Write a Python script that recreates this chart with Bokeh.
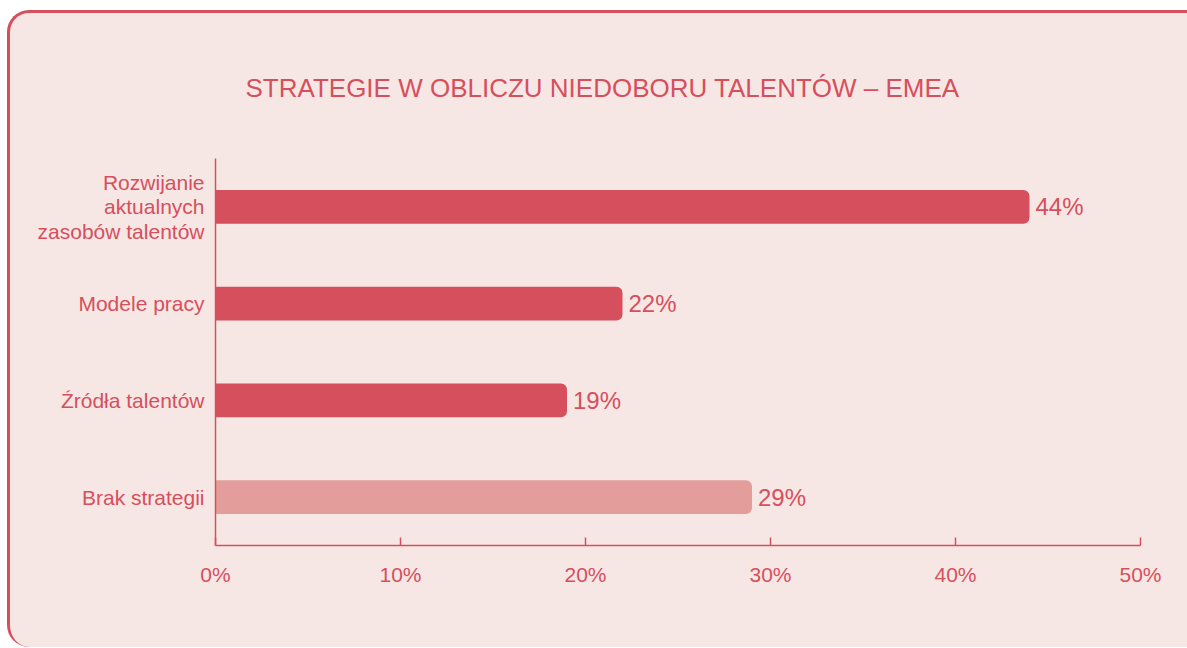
from bokeh.plotting import figure
from bokeh.models import FactorRange, Range1d, PrintfTickFormatter, FixedTicker, Title, ColumnDataSource
from bokeh.layouts import column
from bokeh.embed import file_html
from bokeh.resources import INLINE
from bokeh.core.properties import value

title_text = "STRATEGIE W OBLICZU NIEDOBORU TALENTÓW – EMEA"
categories = ["Rozwijanie\naktualnych\nzasobów talentów", "Modele pracy", "Źródła talentów", "Brak strategii"]
values = [44, 22, 19, 29]
bar_colors = ["#D64F5D", "#D64F5D", "#D64F5D", "#E39E9B"]
x_ticks = [0, 10, 20, 30, 40, 50]

RED = "#D64F5D"
BG = "#F6E7E5"
FONT = "Liberation Sans"

W, H = 1177, 634

src = ColumnDataSource(dict(
    cat=categories,
    val=values,
    color=bar_colors,
    label=[f"{v}%" for v in values],
))

p = figure(width=W, height=H,
           y_range=FactorRange(factors=list(reversed(categories)), range_padding=0),
           x_range=Range1d(0, 50),
           output_backend="svg", toolbar_location=None,
           min_border_left=205, min_border_right=47,
           min_border_top=145, min_border_bottom=102)

p.background_fill_alpha = 0
p.border_fill_alpha = 0
p.outline_line_color = None
p.xgrid.visible = False
p.ygrid.visible = False

# x axis
xa = p.xaxis[0]
xa.ticker = FixedTicker(ticks=x_ticks)
xa.formatter = PrintfTickFormatter(format="%d%%")
xa.major_tick_in = 8
xa.major_tick_out = 0
xa.minor_tick_in = 0
xa.minor_tick_out = 0
xa.axis_line_color = RED
xa.axis_line_width = 1.5
xa.major_tick_line_color = RED
xa.major_tick_line_width = 1.5
xa.major_label_text_color = RED
xa.major_label_text_font = FONT
xa.major_label_text_font_size = "21px"
xa.major_label_standoff = 17

# y axis
ya = p.yaxis[0]
ya.major_tick_in = 0
ya.major_tick_out = 0
ya.minor_tick_in = 0
ya.minor_tick_out = 0
ya.axis_line_color = RED
ya.axis_line_width = 1.5
ya.major_label_text_color = RED
ya.major_label_text_font = FONT
ya.major_label_text_font_size = "21px"
ya.major_label_text_line_height = 1.05
ya.major_label_standoff = 11

p.hbar(y="cat", left=0, right="val", height=0.35, fill_color="color",
       line_color=None, source=src, border_radius=(0, 6, 6, 0))

p.text(x="val", y="cat", text="label", x_offset=6, text_baseline="middle",
       text_align="left", text_font=value(FONT), text_font_size="24px",
       text_color=RED, source=src)

title = Title(text=title_text, align="left", offset=30, vertical_align="bottom",
              standoff=112, text_font=FONT, text_font_size="26px",
              text_font_style="normal", text_color=RED)
p.add_layout(title, "above")

layout = column(p, styles={"background-color": BG,
                           "border-top": f"3px solid {RED}",
                           "border-left": f"3px solid {RED}",
                           "border-top-left-radius": "22px",
                           "border-bottom-left-radius": "22px",
                           "margin-top": "10px",
                           "margin-left": "7px", "overflow": "hidden"})

open("out.html", "w").write(file_html(layout, INLINE))
